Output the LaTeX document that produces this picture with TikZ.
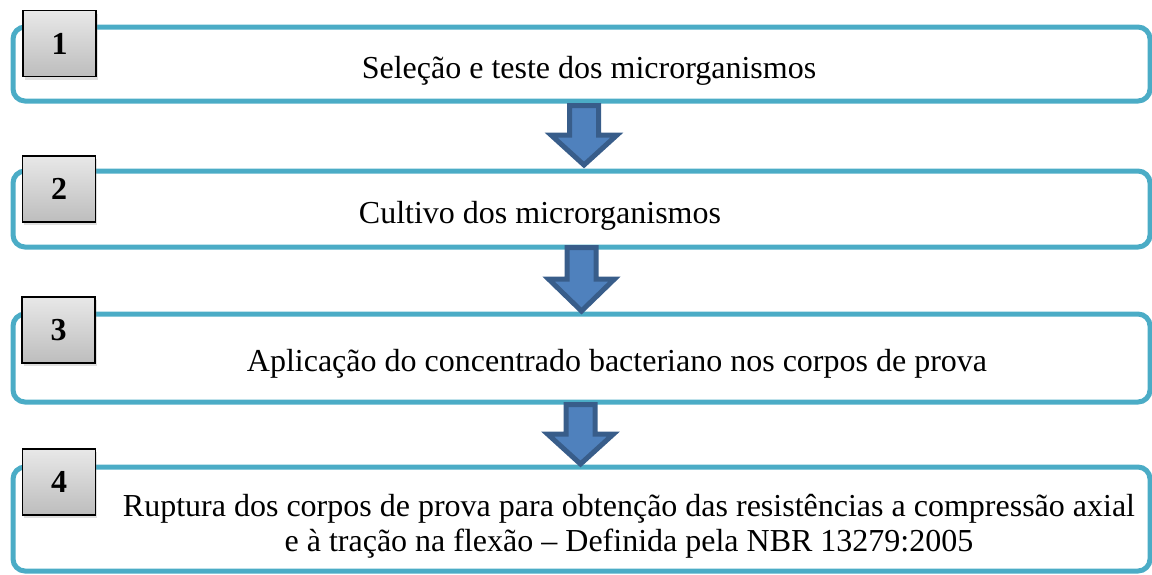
\documentclass[tikz,border=0pt]{standalone}
\usepackage{fontspec}
\setmainfont{Liberation Serif}
\usetikzlibrary{shadows}
\definecolor{boxline}{HTML}{4BACC6}
\definecolor{arrfill}{HTML}{4F81BD}
\definecolor{arrline}{HTML}{385D8A}
\definecolor{numtop}{HTML}{E8E8E8}
\definecolor{numbot}{HTML}{BDBDBD}
\begin{document}
\begin{tikzpicture}[x=1pt,y=-1pt,
  stepbox/.style={draw=boxline, line width=5pt, rounded corners=12pt, inner sep=0pt},
  numbox/.style={draw=black, line width=1.2pt, top color=numtop, bottom color=numbot,
     minimum width=73pt, minimum height=66pt, inner sep=0pt,
     font=\fontsize{32}{36}\selectfont\bfseries,
     drop shadow={shadow xshift=1.5pt, shadow yshift=-3pt, opacity=0.25}},
  steptext/.style={font=\fontsize{32}{35}\selectfont, inner sep=0pt, align=center},
  blockarrow/.style={fill=arrfill, draw=arrline, line width=5pt, line join=miter}]
\useasboundingbox (0,0) rectangle (1152,574);
% boxes
\node[stepbox, minimum width=1137pt, minimum height=74pt] (b1) at (581.5,64) {};
\node[stepbox, minimum width=1137pt, minimum height=76pt] (b2) at (581.5,209) {};
\node[stepbox, minimum width=1137pt, minimum height=88pt] (b3) at (581.5,358) {};
\node[stepbox, minimum width=1137pt, minimum height=104pt] (b4) at (581.5,519) {};
% texts
\node[steptext] (t1) at (589,71) {Seleção e teste dos microrganismos};
\node[steptext] (t2) at (540,216) {Cultivo dos microrganismos};
\node[steptext] (t3) at (617,364) {Aplicação do concentrado bacteriano nos corpos de prova};
\node[steptext] (t4) at (629,526) {Ruptura dos corpos de prova para obtenção das resistências a compressão axial\\e à tração na flexão -- Definida pela NBR 13279:2005};
% number squares
\node[numbox] (n1) at (59.5,43.5) {1};
\node[numbox] (n2) at (59,189) {2};
\node[numbox] (n3) at (58.5,330) {3};
\node[numbox] (n4) at (59,482) {4};
% block arrows between boxes
\foreach \cx/\top/\neck/\tip in {584/105.5/135/165, 581.5/247.5/279/311, 580.5/404.5/434/464}{
  \draw[blockarrow] (\cx-14.5,\top) -- (\cx+14.5,\top) -- (\cx+14.5,\neck) -- (\cx+33,\neck)
     -- (\cx,\tip) -- (\cx-33,\neck) -- (\cx-14.5,\neck) -- cycle;
}
\end{tikzpicture}
\end{document}
